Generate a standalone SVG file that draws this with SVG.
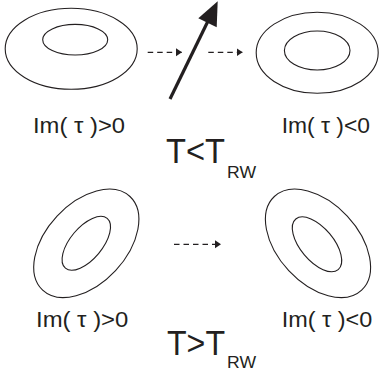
<svg xmlns="http://www.w3.org/2000/svg" width="383" height="373" viewBox="0 0 383 373">
<style>
.ring{fill:none;stroke:#231f20;stroke-width:1.1}
.lbl{font-family:"Liberation Sans","Open Sans",sans-serif;font-size:22px;fill:#231f20}
.big{font-family:"Liberation Sans","Open Sans",sans-serif;font-size:35px;fill:#231f20}
.sub{font-family:"Liberation Sans","Open Sans",sans-serif;font-size:16px;fill:#231f20}
.dash{fill:none;stroke:#231f20;stroke-width:1.2;stroke-dasharray:5.5 4}
</style>
<defs>
<marker id="ah" markerWidth="8" markerHeight="10" refX="6" refY="4" orient="auto" markerUnits="userSpaceOnUse">
<path d="M0,0 L6,4 L0,8 Z" fill="#231f20"/>
</marker>
</defs>
<rect width="383" height="373" fill="#fff"/>
<g id="torus-top-left">
<ellipse class="ring" cx="71.2" cy="48.8" rx="66" ry="40.5"/>
<ellipse class="ring" cx="75.2" cy="39.7" rx="32.5" ry="15.3"/>
</g>
<g id="torus-top-right">
<ellipse class="ring" cx="317.2" cy="52.8" rx="61" ry="40.5"/>
<ellipse class="ring" cx="317.2" cy="50.5" rx="32.8" ry="19.5"/>
</g>
<g id="torus-bottom-left">
<ellipse class="ring" cx="86.3" cy="243.3" rx="64" ry="40" transform="rotate(-47 86.3 243.3)"/>
<ellipse class="ring" cx="86.3" cy="243.3" rx="32.5" ry="16" transform="rotate(-50 86.3 243.3)"/>
</g>
<g id="torus-bottom-right">
<ellipse class="ring" cx="318" cy="243.3" rx="64" ry="40" transform="rotate(47 318 243.3)"/>
<ellipse class="ring" cx="317" cy="244.3" rx="33" ry="16.5" transform="rotate(50 317 244.3)"/>
</g>
<g id="connectors">
<path class="dash" d="M147.7,52.3 H182" marker-end="url(#ah)"/>
<path class="dash" d="M208.3,52.3 H242.6" marker-end="url(#ah)"/>
<path class="dash" d="M174,244.3 H221" marker-end="url(#ah)"/>
<path d="M170,99 L209,19" fill="none" stroke="#231f20" stroke-width="3.2"/>
<polygon points="217.7,1.2 198.3,18.3 216.7,27.3" fill="#231f20"/>
</g>
<g id="label-top-left"><text class="lbl" x="33" y="133.3" textLength="92" lengthAdjust="spacingAndGlyphs">Im( τ )&gt;0</text></g>
<g id="label-top-right"><text class="lbl" x="281.7" y="133.3" textLength="88.3" lengthAdjust="spacingAndGlyphs">Im( τ )&lt;0</text></g>
<g id="label-bottom-left"><text class="lbl" x="36" y="327.3" textLength="92.3" lengthAdjust="spacingAndGlyphs">Im( τ )&gt;0</text></g>
<g id="label-bottom-right"><text class="lbl" x="281.7" y="327.3" textLength="90.6" lengthAdjust="spacingAndGlyphs">Im( τ )&lt;0</text></g>
<g id="title-top">
<text class="big" x="166" y="162.7" textLength="59" lengthAdjust="spacingAndGlyphs">T&lt;T</text>
<text class="sub" x="227" y="178.3" textLength="29" lengthAdjust="spacingAndGlyphs">RW</text>
</g>
<g id="title-bottom">
<text class="big" x="167" y="355" textLength="58" lengthAdjust="spacingAndGlyphs">T&gt;T</text>
<text class="sub" x="227" y="368.3" textLength="29" lengthAdjust="spacingAndGlyphs">RW</text>
</g>
</svg>
